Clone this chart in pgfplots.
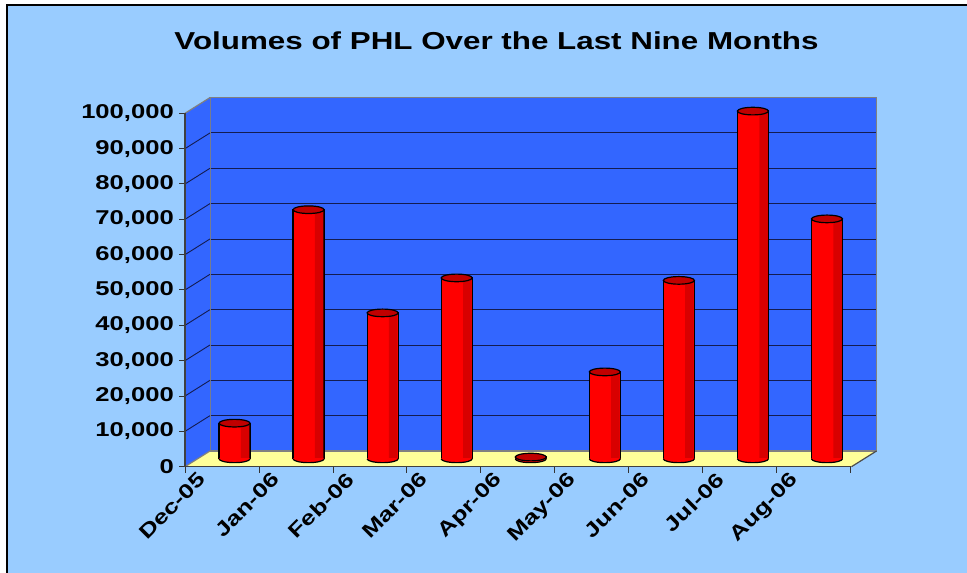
\documentclass[border=0pt]{standalone}
\usepackage{pgfplots}
\usepackage{pgfplotstable}
\pgfplotsset{compat=1.18}
\usepackage{fontspec}
\setmainfont{Liberation Sans}[FakeStretch=1.28]
\definecolor{bgblue}{HTML}{99CCFF}
\definecolor{wallblue}{HTML}{3366FF}
\definecolor{floorc}{HTML}{FFFF99}
\definecolor{gridc}{HTML}{141C50}
\definecolor{wallgray}{HTML}{808080}
\definecolor{barred}{HTML}{FF0000}
\definecolor{bardark}{HTML}{D80000}
\definecolor{topred}{HTML}{C00000}

\pgfdeclareplotmark{cyltop}{%
  \pgfpathellipse{\pgfpointorigin}{\pgfqpoint{15.5pt}{0pt}}{\pgfqpoint{0pt}{3.8pt}}%
  \pgfusepathqfillstroke}
\pgfdeclareplotmark{cylbot}{%
  \pgfpathmoveto{\pgfqpoint{-15.5pt}{0.8pt}}%
  \pgfpathlineto{\pgfqpoint{-15.5pt}{0pt}}%
  \pgfpatharc{180}{360}{15.5pt and 3.8pt}%
  \pgfpathlineto{\pgfqpoint{15.5pt}{0.8pt}}%
  \pgfpathclose
  \pgfusepathqfill
  \pgfpathmoveto{\pgfqpoint{-15.5pt}{0pt}}%
  \pgfpatharc{180}{360}{15.5pt and 3.8pt}%
  \pgfusepathqstroke}

\pgfplotstableread{
x   y    z
0.5 10100 0
1.5 70500 0
2.5 41300 0
3.5 51200 0
4.5 500 0
5.5 24600 0
6.5 50500 0
7.5 98400 0
8.5 67900 0
}\volumes

\begin{document}
\begin{tikzpicture}
\useasboundingbox (0,0) rectangle (967pt,573pt);
\fill[white] (0,0) rectangle (967pt,573pt);
\fill[bgblue] (7pt,0) rectangle (967pt,568pt);
\draw[black, line width=1.2pt] (7pt,0) -- (7pt,568pt) -- (967pt,568pt);

\node[anchor=base, font=\bfseries\fontsize{24.5}{26}\selectfont] at (496.5pt,523.7pt) {Volumes of PHL Over the Last Nine Months};

% back wall, side wall and floor
\begin{axis}[at={(210pt,122pt)}, anchor=south west, scale only axis,
  width=666.5pt, height=353.4pt, xmin=0, xmax=9, ymin=0, ymax=100000,
  scaled y ticks=false, xtick=\empty, ytick={0,10000,...,100000},
  yticklabels={}, major tick length=0pt,
  ymajorgrids, grid style={gridc, line width=0.9pt},
  axis line style={draw=wallgray, line width=1.2pt},
  axis background/.style={fill=wallblue}, clip=false]
  \fill[wallblue] (axis cs:0,0) -- (axis cs:0,100000) -- ([shift={(-25pt,-15.7pt)}]axis cs:0,100000) -- ([shift={(-25pt,-15.7pt)}]axis cs:0,0) -- cycle;
  \pgfplotsinvokeforeach{10000,20000,30000,40000,50000,60000,70000,80000,90000}{
    \draw[gridc, line width=0.9pt] (axis cs:0,#1) -- ([shift={(-25pt,-15.7pt)}]axis cs:0,#1);
  }
  \draw[wallgray, line width=1.2pt] (axis cs:0,100000) -- ([shift={(-25pt,-15.7pt)}]axis cs:0,100000);
  \fill[floorc] (axis cs:0,0) -- (axis cs:9,0) -- ([shift={(-25pt,-15.7pt)}]axis cs:9,0) -- ([shift={(-25pt,-15.7pt)}]axis cs:0,0) -- cycle;
  \draw[wallgray, line width=1.2pt] (axis cs:0,0) -- (axis cs:9,0);
  \draw[black!70, line width=1.2pt] (axis cs:9,0) -- ([shift={(-25pt,-15.7pt)}]axis cs:9,0);
  \draw[wallgray, line width=1.2pt] (axis cs:0,0) -- ([shift={(-25pt,-15.7pt)}]axis cs:0,0);
\end{axis}

% bars at mid depth
\begin{axis}[at={(197.5pt,114.15pt)}, anchor=south west, scale only axis,
  width=666.5pt, height=353.4pt, xmin=0, xmax=9, ymin=0, ymax=100000,
  scaled y ticks=false, hide axis, clip=false]
  \addplot[ybar, bar width=31pt, bar shift=0pt, draw=black, line width=1.2pt,
    fill=barred] table[x=x, y=y] {\volumes};
  \addplot[ybar, bar width=8.5pt, bar shift=10.6pt, draw=none,
    fill=bardark] table[x=x, y=y] {\volumes};
  \addplot[only marks, mark=cylbot, mark options={fill=barred, draw=black, line width=1.2pt}]
    table[x=x, y=z] {\volumes};
  \addplot[only marks, mark=cyltop, mark options={fill=topred, draw=black, line width=1.2pt}]
    table[x=x, y=y] {\volumes};
\end{axis}

% front axis with labels
\begin{axis}[at={(185pt,106.3pt)}, anchor=south west, scale only axis,
  width=666pt, height=353.4pt, xmin=0, xmax=9, ymin=0, ymax=100000,
  scaled y ticks=false,
  axis x line*=bottom, axis y line*=left,
  axis line style={draw=black!75, line width=1.2pt},
  tick align=outside, major tick length=6pt,
  tick style={black!80, line width=1pt},
  ytick={0,10000,20000,30000,40000,50000,60000,70000,80000,90000,100000},
  yticklabels={0,{10,000},{20,000},{30,000},{40,000},{50,000},{60,000},{70,000},{80,000},{90,000},{100,000}},
  xtick={0,1,...,9}, xticklabels={},
  extra x ticks={0.5,1.5,...,8.5},
  extra x tick labels={Dec-05,Jan-06,Feb-06,Mar-06,Apr-06,May-06,Jun-06,Jul-06,Aug-06},
  extra x tick style={major tick length=0pt,
    xticklabel style={xshift=-25pt, yshift=-4pt, rotate=45, anchor=north east, inner sep=0pt}},
  tick label style={font=\bfseries\fontsize{20}{22}\selectfont},
  yticklabel style={inner sep=0pt, xshift=-5pt}]
\end{axis}
\end{tikzpicture}
\end{document}
